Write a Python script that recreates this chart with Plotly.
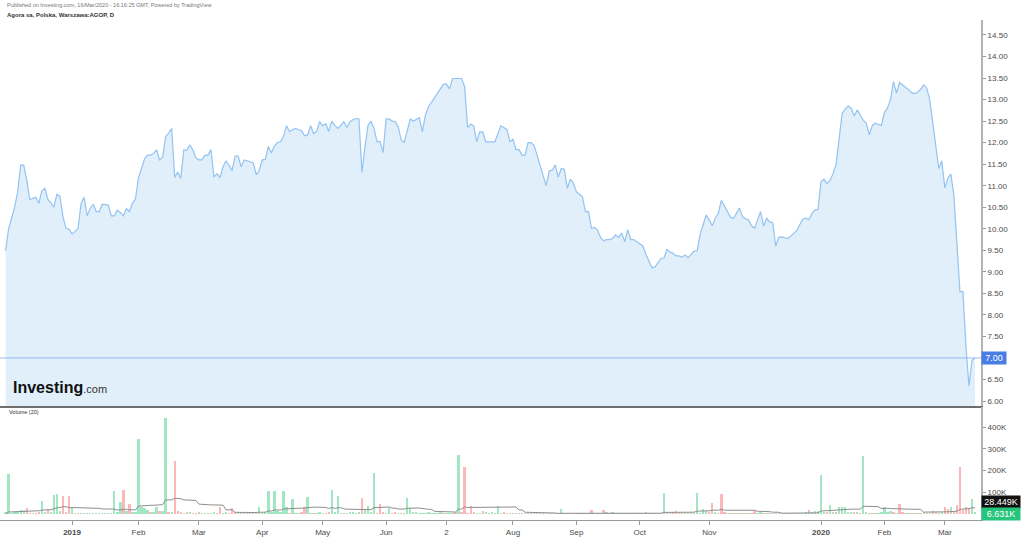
import pandas as pd
import plotly.graph_objects as go

HEADER = "Published on Investing.com, 16/Mar/2020 - 16:16:25 GMT, Powered by TradingView"
TITLE = "Agora sa, Polska, Warszawa:AGOP, D"
VOLUME_TITLE = "Volume (20)"

FIRST_DAY = "2018-11-26"
LAST_DAY = "2020-03-16"
HOLIDAYS = ["2018-12-24", "2018-12-25", "2018-12-26", "2018-12-31", "2019-01-01",
            "2019-04-19", "2019-04-22", "2019-05-01", "2019-05-03", "2019-06-20",
            "2019-08-15", "2019-11-01", "2019-11-11", "2019-12-24", "2019-12-25",
            "2019-12-26", "2019-12-31", "2020-01-01", "2020-01-06"]

# daily close (PLN)
CLOSE = [
    9.49, 10.00, 10.25, 10.50, 10.85, 11.48, 11.48, 11.13, 10.68, 10.70,
    10.73, 10.59, 10.88, 10.94, 10.68, 10.60, 10.50, 10.80, 10.75, 10.28,
    10.01, 9.99, 9.88, 9.94, 10.01, 10.59, 10.73, 10.30, 10.47, 10.57,
    10.40, 10.40, 10.57, 10.56, 10.55, 10.30, 10.30, 10.43, 10.38, 10.30,
    10.47, 10.40, 10.59, 10.69, 11.19, 11.40, 11.62, 11.71, 11.71, 11.75,
    11.83, 11.60, 11.66, 12.14, 12.22, 12.33, 11.19, 11.32, 11.17, 11.83,
    11.82, 11.95, 11.83, 11.65, 11.60, 11.60, 11.71, 11.71, 11.84, 11.20,
    11.28, 11.19, 11.44, 11.58, 11.45, 11.35, 11.69, 11.69, 11.44, 11.60,
    11.58, 11.55, 11.53, 11.25, 11.36, 11.60, 11.61, 11.91, 11.76, 11.92,
    12.00, 12.02, 12.14, 12.39, 12.26, 12.30, 12.33, 12.30, 12.28, 12.16,
    12.18, 12.39, 12.21, 12.26, 12.49, 12.39, 12.44, 12.26, 12.50, 12.40,
    12.33, 12.40, 12.49, 12.35, 12.48, 12.53, 12.56, 12.55, 11.31, 11.90,
    12.40, 12.50, 12.33, 12.02, 12.03, 11.77, 12.55, 12.55, 12.50, 12.49,
    12.37, 12.06, 12.01, 12.28, 12.55, 12.50, 12.55, 12.58, 12.25, 12.64,
    12.83, 12.93, 13.03, 13.14, 13.25, 13.36, 13.36, 13.25, 13.49, 13.49,
    13.49, 13.49, 13.30, 12.35, 12.43, 12.39, 12.02, 12.25, 12.25, 12.02,
    12.02, 12.02, 12.02, 12.20, 12.39, 12.35, 12.30, 12.02, 12.08, 11.84,
    11.84, 11.71, 11.71, 12.00, 12.00, 11.94, 11.70, 11.47, 11.23, 11.00,
    11.34, 11.36, 11.48, 11.20, 11.40, 11.38, 10.94, 11.15, 11.06, 10.86,
    10.80, 10.74, 10.40, 10.40, 10.01, 10.03, 9.97, 9.80, 9.72, 9.75,
    9.75, 9.78, 9.86, 9.80, 9.90, 9.70, 9.98, 9.75, 9.75, 9.70,
    9.66, 9.60, 9.41, 9.25, 9.10, 9.11, 9.21, 9.31, 9.32, 9.52,
    9.46, 9.43, 9.37, 9.37, 9.34, 9.39, 9.33, 9.40, 9.48, 9.49,
    9.88, 10.10, 10.32, 10.20, 10.07, 10.25, 10.36, 10.66, 10.52, 10.40,
    10.27, 10.24, 10.35, 10.48, 10.28, 10.23, 10.21, 10.07, 10.01, 10.20,
    10.40, 10.06, 10.24, 10.16, 10.14, 9.60, 9.80, 9.81, 9.79, 9.77,
    9.83, 9.90, 9.96, 10.10, 10.22, 10.25, 10.21, 10.35, 10.44, 10.45,
    11.09, 11.15, 11.05, 11.12, 11.28, 11.50, 12.10, 12.68, 12.78, 12.85,
    12.80, 12.62, 12.76, 12.65, 12.52, 12.45, 12.18, 12.40, 12.45, 12.42,
    12.40, 12.70, 12.80, 13.00, 13.42, 13.15, 13.40, 13.34, 13.29, 13.23,
    13.16, 13.14, 13.17, 13.24, 13.34, 13.27, 13.00, 12.45, 11.95, 11.40,
    11.58, 10.95, 11.17, 11.27, 10.78, 9.58, 8.54, 8.54, 7.26, 6.35,
    6.95, 7.00,
]

# daily volume, thousands of shares
VOLUME_K = [
    8, 183, 4, 8, 14, 17, 17, 26, 4, 4,
    3, 11, 60, 5, 23, 8, 88, 94, 14, 85,
    8, 85, 26, 3, 2, 3, 4, 2, 3, 2,
    4, 2, 3, 2, 4, 3, 106, 5, 54, 111,
    14, 45, 8, 8, 345, 34, 29, 17, 8, 5,
    32, 14, 14, 444, 8, 8, 246, 14, 8, 4,
    8, 8, 4, 3, 5, 3, 4, 2, 4, 5,
    3, 32, 4, 5, 4, 26, 8, 3, 4, 3,
    8, 3, 4, 3, 34, 4, 8, 106, 8, 106,
    14, 5, 108, 32, 4, 69, 4, 3, 5, 34,
    77, 4, 3, 4, 11, 3, 4, 8, 111, 5,
    85, 4, 3, 4, 5, 11, 4, 5, 72, 17,
    38, 5, 188, 4, 48, 8, 4, 26, 3, 5,
    3, 4, 3, 75, 29, 5, 8, 3, 4, 4,
    5, 3, 2, 3, 8, 3, 4, 3, 4, 8,
    272, 5, 217, 4, 38, 8, 3, 4, 14, 8,
    4, 5, 3, 38, 4, 8, 3, 4, 3, 2,
    2, 3, 2, 2, 3, 2, 2, 3, 2, 2,
    3, 2, 2, 2, 23, 2, 1, 2, 2, 1,
    2, 1, 2, 2, 20, 2, 1, 2, 20, 5,
    2, 5, 2, 1, 2, 2, 3, 2, 1, 2,
    2, 3, 5, 2, 3, 2, 3, 2, 98, 3,
    4, 5, 15, 3, 3, 2, 3, 2, 3, 98,
    4, 25, 15, 5, 52, 5, 4, 92, 5, 4,
    2, 3, 2, 3, 2, 3, 3, 4, 15, 3,
    5, 2, 3, 4, 2, 3, 2, 4, 3, 2,
    3, 4, 2, 3, 4, 5, 18, 5, 15, 15,
    180, 8, 8, 40, 8, 10, 34, 34, 34, 8,
    5, 10, 8, 4, 268, 5, 4, 3, 4, 3,
    5, 34, 5, 15, 10, 4, 46, 8, 3, 3,
    3, 2, 3, 4, 9, 3, 4, 15, 6, 4,
    5, 31, 25, 34, 10, 40, 218, 20, 34, 30,
    68, 6.631,
]

# bar direction per day: g = up, r = down
VOLUME_DIR = "".join([
    "gggggggrrg", "rrggrggggr", "rrggrggrgg", "rggggggggr", "grggggggrg",
    "grggrgrrrg", "rgrgrggrgg", "rrggrrrgrg", "grgrgggggg", "ggggrgggrr",
    "ggrgggrrgg", "gggrggggrg", "gggrrrggrr", "grgggggggg", "gggggrgggr",
    "grrrrrggrg", "gggggrrggr", "grgrggrgrg", "rggrggrgrg", "grggrgrgrg",
    "rggrgrggrg", "grrgrgrggr", "grrgrgrggg", "gggrrgrrrg", "rgrgrggrrg",
    "grgrgrgrgg", "rggrggrggg", "ggrggrgggg", "grgrggrgrg", "ggggrgrrgr",
    "grgrgrgrrg", "grrgrrrrrr", "gg",
])

LAST_VOLUME_MA_K = 28.449
LAST_VOLUME_K = 6.631

TICK_DATES = ["2019-01-02", "2019-02-01", "2019-03-01", "2019-04-01", "2019-05-02",
              "2019-06-03", "2019-07-02", "2019-08-01", "2019-09-02", "2019-10-01",
              "2019-11-04", "2020-01-02", "2020-02-03", "2020-03-02"]
TICK_TEXT = ["<b>2019</b>", "Feb", "Mar", "Apr", "May", "Jun", "2", "Aug", "Sep",
             "Oct", "Nov", "<b>2020</b>", "Feb", "Mar"]
PRICE_TICKS = [6.00, 6.50, 7.00, 7.50, 8.00, 8.50, 9.00, 9.50, 10.00, 10.50,
               11.00, 11.50, 12.00, 12.50, 13.00, 13.50, 14.00, 14.50]
VOLUME_TICKS = [100, 200, 300, 400]
VOLUME_TICK_TEXT = ["100K", "200K", "300K", "400K"]

# ---------------------------------------------------------------------------
dates = pd.bdate_range(FIRST_DAY, LAST_DAY, freq="C", holidays=HOLIDAYS)
n = min(len(dates), len(CLOSE), len(VOLUME_K))
x = list(range(n))
close = CLOSE[:n]
vol = VOLUME_K[:n]
tick_idx = [int(dates.searchsorted(pd.Timestamp(d))) for d in TICK_DATES]

ma = (pd.Series(vol).rolling(20, min_periods=1).sum() / 20).tolist()

GREEN = "#a2e6c4"
RED = "#fcb8b8"
bar_colors = [GREEN if VOLUME_DIR[i] == "g" else RED for i in range(n)]

# the last price is shown in its own label box, so its tick text is left blank
last_price = close[-1]
price_tick_text = ["" if abs(v - last_price) < 0.13 else f"{v:.2f}" for v in PRICE_TICKS]

FONT = "Liberation Sans, Arial, sans-serif"
xr = [-1.85, n + 0.98]

fig = go.Figure()
fig.add_trace(go.Scatter(
    x=x, y=close, mode="lines", line=dict(color="#93c3f1", width=1.2),
    fill="tozeroy", fillcolor="rgb(224,239,250)", xaxis="x", yaxis="y",
    hoverinfo="skip", showlegend=False))
fig.add_trace(go.Bar(
    x=x, y=vol, marker=dict(color=bar_colors, line=dict(width=0)), width=0.78,
    xaxis="x2", yaxis="y2", hoverinfo="skip", showlegend=False))
fig.add_trace(go.Scatter(
    x=x, y=ma, mode="lines", line=dict(color="#8e8e8e", width=1),
    xaxis="x2", yaxis="y2", hoverinfo="skip", showlegend=False))

axis_font = dict(family=FONT, size=8, color="#4a4a4a")
fig.update_layout(
    width=1024, height=538,
    margin=dict(l=0, r=43, t=20, b=18, autoexpand=False),
    paper_bgcolor="white", plot_bgcolor="white",
    bargap=0, showlegend=False,
    font=dict(family=FONT),
    xaxis=dict(domain=[0, 1], range=xr, anchor="y", showticklabels=False,
               showgrid=False, zeroline=False, showline=True,
               linecolor="#6e6e6e", linewidth=2, ticks=""),
    yaxis=dict(domain=[0.228, 1], range=[5.884, 14.848], side="right",
               anchor="x", tickvals=PRICE_TICKS, ticktext=price_tick_text,
               ticks="outside", ticklen=3, tickcolor="#9a9a9a",
               tickfont=axis_font, showgrid=False, zeroline=False,
               showline=True, linecolor="#b3b3b3", linewidth=2),
    xaxis2=dict(domain=[0, 1], range=xr, anchor="y2", tickvals=tick_idx,
                ticktext=TICK_TEXT, ticks="outside", ticklen=4,
                tickcolor="#9a9a9a", tickfont=dict(family=FONT, size=8, color="#4a4a4a"),
                showgrid=False, zeroline=False, showline=True,
                linecolor="#9a9a9a", linewidth=1),
    yaxis2=dict(domain=[0, 0.226], range=[-27.7, 493.8], side="right",
                anchor="x2", tickvals=VOLUME_TICKS, ticktext=VOLUME_TICK_TEXT,
                ticks="outside", ticklen=3, tickcolor="#9a9a9a",
                tickfont=axis_font, showgrid=False, zeroline=False,
                showline=True, linecolor="#b3b3b3", linewidth=2),
)

# last price line
fig.add_shape(type="line", xref="x domain", yref="y", x0=0, x1=1,
              y0=last_price, y1=last_price,
              line=dict(color="rgba(120,170,238,0.75)", width=1))

ann = []
ann.append(dict(xref="paper", yref="y", x=1, y=last_price, xanchor="left",
                yanchor="middle", text=f"{last_price:.2f}", showarrow=False,
                bgcolor="#4a7de4", font=dict(family=FONT, size=9, color="white"),
                width=22, align="center", borderpad=1))
ann.append(dict(xref="paper", yref="y2", x=1, y=LAST_VOLUME_MA_K, yshift=6,
                xanchor="left", yanchor="middle", text=f"{LAST_VOLUME_MA_K:.3f}K",
                showarrow=False, bgcolor="#111111",
                font=dict(family=FONT, size=9, color="white"),
                width=36, align="center", borderpad=1))
ann.append(dict(xref="paper", yref="y2", x=1, y=vol[-1], yshift=-1,
                xanchor="left", yanchor="middle", text=f"{LAST_VOLUME_K:.3f}K",
                showarrow=False, bgcolor="#27c47c",
                font=dict(family=FONT, size=9, color="white"),
                width=36, align="center", borderpad=1))
ann.append(dict(xref="paper", yref="paper", x=5 / 981, y=1 + 15 / 500,
                xanchor="left", yanchor="middle", text=HEADER, showarrow=False,
                font=dict(family=FONT, size=5.5, color="#777777")))
ann.append(dict(xref="paper", yref="paper", x=5 / 981, y=1 + 5 / 500,
                xanchor="left", yanchor="middle", text=f"<b>{TITLE}</b>",
                showarrow=False, font=dict(family=FONT, size=6, color="#333333")))
ann.append(dict(xref="paper", yref="paper", x=7 / 981, y=(520 - 412) / 500,
                xanchor="left", yanchor="middle", text=VOLUME_TITLE,
                showarrow=False, font=dict(family=FONT, size=5.5, color="#333333")))
ann.append(dict(xref="paper", yref="paper", x=11 / 981, y=(520 - 387) / 500,
                xanchor="left", yanchor="middle",
                text="<b>Investing</b><span style='font-size:11px;color:#333333'>.com</span>",
                showarrow=False, font=dict(family=FONT, size=16, color="#111111")))
fig.update_layout(annotations=ann)

# remove the page's default body margin so the 1024x538 figure fills the window
fig.write_html("out.html", config={"displayModeBar": False},
               post_script="document.body.style.margin='0';document.body.style.overflow='hidden';")
